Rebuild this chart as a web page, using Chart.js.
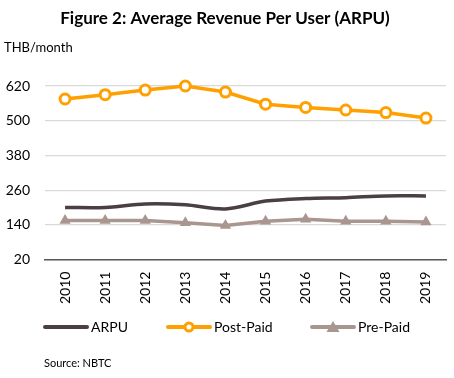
<!DOCTYPE html>
<html>
<head>
<meta charset="utf-8">
<script src="https://cdn.jsdelivr.net/npm/chart.js@4/dist/chart.umd.min.js"></script>
<style>
  html, body { margin: 0; padding: 0; background: #fff; }
  #wrap { width: 454px; height: 378px; }
</style>
</head>
<body>
<div id="wrap"><canvas id="myChart" width="454" height="378"></canvas></div>
<script>
var years = ["2010", "2011", "2012", "2013", "2014", "2015", "2016", "2017", "2018", "2019"];
var arpu = [200, 200, 212, 209, 195, 222, 231, 234, 240, 240];
var postPaid = [575, 590, 606, 620, 599, 557, 546, 537, 528, 509];
var prePaid = [155, 155, 155, 147, 138, 152, 159, 152, 152, 150];
var yTicks = [20, 140, 260, 380, 500, 620];

var FONT = "Lato, 'Open Sans', sans-serif";

// excel style legend (line + marker) and the source line, drawn under the chart
var legendX = [45, 168, 312];
var legendY = 327;

function drawMarker(g, style, x, y, color) {
    if (style == "circle") {
        g.fillStyle = "#fff";
        g.strokeStyle = color;
        g.lineWidth = 3;
        g.beginPath();
        g.arc(x, y, 4, 0, Math.PI * 2);
        g.fill();
        g.stroke();
    }
    if (style == "triangle") {
        g.fillStyle = color;
        g.beginPath();
        g.moveTo(x, y - 6);
        g.lineTo(x + 6.5, y + 5);
        g.lineTo(x - 6.5, y + 5);
        g.closePath();
        g.fill();
    }
}

var bottomNotes = {
    id: "bottomNotes",
    afterDraw: function (chart) {
        var g = chart.ctx;
        g.save();
        g.textBaseline = "middle";
        chart.data.datasets.forEach(function (ds, i) {
            var x = legendX[i];
            g.strokeStyle = ds.borderColor;
            g.lineWidth = 4;
            g.lineCap = "round";
            g.beginPath();
            g.moveTo(x, legendY);
            g.lineTo(x + 42, legendY);
            g.stroke();
            drawMarker(g, ds.pointStyle, x + 21, legendY, ds.borderColor);
            g.fillStyle = "#000";
            g.font = "14px " + FONT;
            g.fillText(ds.label, x + 46, legendY);
        });
        g.font = "11px " + FONT;
        g.fillStyle = "#000";
        g.fillText("Source: NBTC", 44, 363);
        g.restore();
    }
};

var ctx = document.getElementById("myChart");

var myChart = new Chart(ctx, {
    type: "line",
    data: {
        labels: years,
        datasets: [
            {
                label: "ARPU",
                data: arpu,
                borderColor: "#4a3f42",
                borderWidth: 3.5,
                pointRadius: 0,
                pointStyle: "none",
                tension: 0.3,
                fill: false
            },
            {
                label: "Post-Paid",
                data: postPaid,
                borderColor: "#ffa000",
                borderWidth: 3.5,
                pointStyle: "circle",
                pointRadius: 5,
                pointBorderWidth: 3,
                pointBackgroundColor: "#fff",
                clip: false,
                fill: false
            },
            {
                label: "Pre-Paid",
                data: prePaid,
                borderColor: "#a9968f",
                borderWidth: 3.5,
                pointStyle: "triangle",
                pointRadius: 6.5,
                pointBorderWidth: 0,
                pointBackgroundColor: "#a9968f",
                fill: false
            }
        ]
    },
    options: {
        responsive: false,
        animation: false,
        layout: { padding: { left: 4, right: 8, top: 4, bottom: 70 } },
        plugins: {
            title: {
                display: true,
                text: "Figure 2: Average Revenue Per User (ARPU)",
                color: "#000",
                font: { family: FONT, size: 17, weight: "bold" },
                padding: { top: 4, bottom: 12 }
            },
            subtitle: {
                display: true,
                text: "THB/month",
                align: "start",
                color: "#000",
                font: { family: FONT, size: 13 },
                padding: { top: 0, bottom: 30 }
            },
            legend: { display: false },
            tooltip: { enabled: false }
        },
        scales: {
            x: {
                offset: true,
                grid: { display: false },
                border: { color: "#595959", width: 1.5 },
                ticks: {
                    color: "#000",
                    font: { family: FONT, size: 14 },
                    minRotation: 90,
                    maxRotation: 90,
                    padding: 4
                }
            },
            y: {
                min: 20,
                max: 620,
                afterBuildTicks: function (axis) {
                    axis.ticks = yTicks.map(function (v) { return { value: v }; });
                },
                afterFit: function (axis) {
                    axis.width = 41;
                },
                grid: { color: "#d9d9d9", lineWidth: 1.2, drawTicks: false },
                border: { display: false },
                ticks: {
                    color: "#000",
                    font: { family: FONT, size: 14 },
                    padding: 15
                }
            }
        }
    },
    plugins: [bottomNotes]
});
</script>
</body>
</html>
